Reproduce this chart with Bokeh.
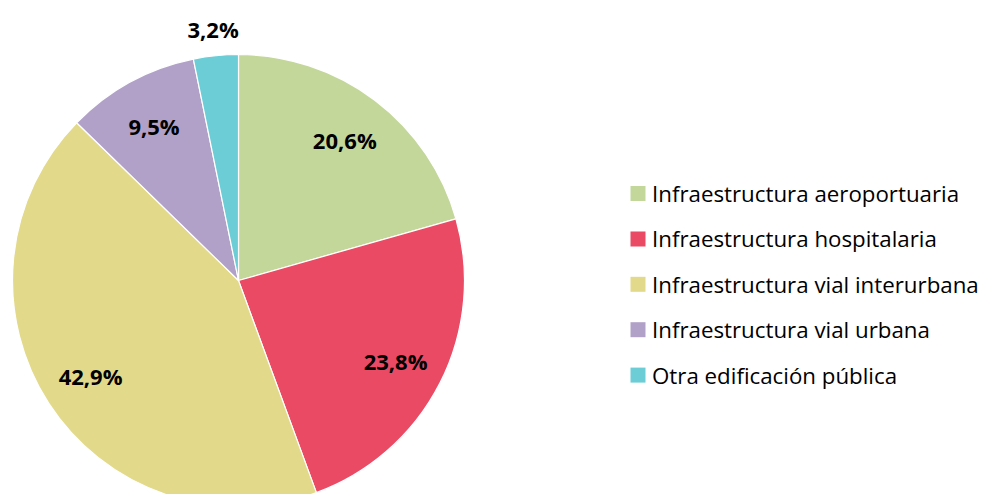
import math
from bokeh.plotting import figure
from bokeh.models import Range1d, ColumnDataSource
from bokeh.core.properties import value
from bokeh.embed import file_html
from bokeh.resources import INLINE

categories = ["Infraestructura aeroportuaria", "Infraestructura hospitalaria",
              "Infraestructura vial interurbana", "Infraestructura vial urbana",
              "Otra edificación pública"]
shares = [20.6, 23.8, 42.9, 9.5, 3.2]
labels = ["20,6%", "23,8%", "42,9%", "9,5%", "3,2%"]
colors = ["#C4D79B", "#EA4A63", "#E3D98A", "#B1A0C7", "#6CCDD6"]

W, H = 986, 494
p = figure(width=W, height=H, output_backend="svg", toolbar_location=None,
           x_range=Range1d(0, W), y_range=Range1d(-H, 0),
           min_border=0)
p.axis.visible = False
p.grid.visible = False
p.outline_line_color = None
p.background_fill_color = "white"

cx, cy, r = 238, -280, 226
total = sum(shares)
starts, ends, lx, ly = [], [], [], []
cum = 0.0
for i, s in enumerate(shares):
    a0 = math.pi / 2 - 2 * math.pi * cum / total
    cum += s
    a1 = math.pi / 2 - 2 * math.pi * cum / total
    starts.append(a0)
    ends.append(a1)
    mid = (a0 + a1) / 2
    rr = r * 1.12 if s < 5 else r * 0.78
    lx.append(cx + rr * math.cos(mid))
    ly.append(cy + rr * math.sin(mid))

src = ColumnDataSource(dict(start=starts, end=ends, color=colors, lx=lx, ly=ly, label=labels))
p.wedge(x=cx, y=cy, radius=r, start_angle="start", end_angle="end", direction="clock",
        fill_color="color", line_color="white", line_width=1.2, source=src)
p.text(x="lx", y="ly", text="label", source=src, text_font=value("Open Sans"),
       text_font_style="bold", text_font_size="22px", text_align="center",
       text_baseline="middle", text_color="black")

# legend
leg_x, leg_y0, leg_dy = 637.5, -193, -45.4
ys = [leg_y0 + i * leg_dy for i in range(len(categories))]
p.scatter(x=[leg_x] * len(categories), y=ys, marker="square", size=15,
          fill_color=colors, line_color=None)
p.text(x=[leg_x + 14] * len(categories), y=ys, text=categories, text_font=value("Open Sans"),
       text_font_size="22.3px", text_align="left", text_baseline="middle",
       text_color="black")

open("out.html", "w").write(file_html(p, INLINE))
